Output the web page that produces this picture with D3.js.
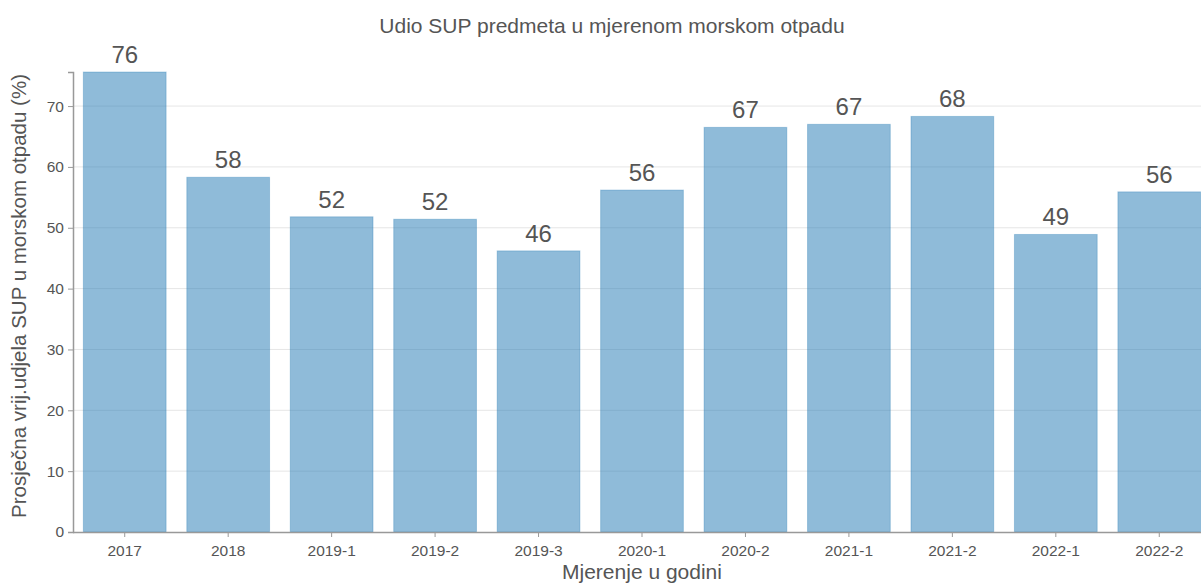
<!DOCTYPE html>
<html><head><meta charset="utf-8">
<script src="https://cdn.jsdelivr.net/npm/d3@7"></script>
<style>
body{margin:0;background:#fff;overflow:hidden}
text{font-family:"Liberation Sans",Arial,sans-serif}
</style></head>
<body>
<svg id="c" width="1201" height="583"></svg>
<script>
const categories = ["2017","2018","2019-1","2019-2","2019-3","2020-1","2020-2","2021-1","2021-2","2022-1","2022-2"];
const values = [75.6,58.3,51.8,51.4,46.2,56.2,66.5,67.0,68.3,48.9,55.9];
const labels = ["76","58","52","52","46","56","67","67","68","49","56"];
const yTicks = [0,10,20,30,40,50,60,70];
const title = "Udio SUP predmeta u mjerenom morskom otpadu";
const xTitle = "Mjerenje u godini";
const yTitle = "Prosječna vrij.udjela SUP u morskom otpadu (%)";

(function(){
const svg = d3.select("#c");
const mLeft = 73, mBottom = 532, mTop = 72, mRight = 1211;
const x = d3.scaleBand().domain(categories).range([mLeft, mRight]).paddingInner(0.2).paddingOuter(0.1);
const y = d3.scaleLinear().domain([0, d3.max(values)]).range([mBottom, mTop]);

// gridlines
svg.append("g").selectAll("line").data(yTicks.filter(d=>d>0)).join("line")
  .attr("x1", mLeft).attr("x2", 1201).attr("y1", d=>y(d)).attr("y2", d=>y(d))
  .attr("stroke", "#e6e6e6").attr("stroke-width", 1);

// bars
svg.append("g").selectAll("rect").data(values).join("rect")
  .attr("x", (d,i)=>x(categories[i]))
  .attr("y", d=>y(d))
  .attr("width", x.bandwidth())
  .attr("height", d=>mBottom - y(d))
  .attr("fill", "rgba(31,119,180,0.5)")
  .attr("stroke", "rgba(31,119,180,0.3)")
  .attr("stroke-width", 1);

// value labels
svg.append("g").selectAll("text").data(values).join("text")
  .attr("x", (d,i)=>x(categories[i]) + x.bandwidth()/2)
  .attr("y", d=>y(d) - 9)
  .attr("text-anchor", "middle")
  .attr("font-size", 24)
  .attr("fill", "#555")
  .text((d,i)=>labels[i]);

// axes
const yAxis = svg.append("g").attr("transform", `translate(${mLeft},0)`)
  .call(d3.axisLeft(y).tickValues(yTicks).tickSize(5).tickPadding(4));
const xAxis = svg.append("g").attr("transform", `translate(0,${mBottom})`)
  .call(d3.axisBottom(x).tickSize(5).tickPadding(8));
[yAxis, xAxis].forEach(a=>{
  a.select(".domain").attr("stroke", "#999").attr("stroke-width", 1.5);
  a.selectAll(".tick line").attr("stroke", "#999");
  a.selectAll(".tick text").attr("fill", "#555").attr("font-size", 15.5)
   .attr("font-family", '"Liberation Sans",Arial,sans-serif');
});
xAxis.select(".domain").attr("d", `M${mLeft},0.5H1201`);

// titles
svg.append("text").attr("x", 612).attr("y", 33).attr("text-anchor", "middle")
  .attr("font-size", 21).attr("fill", "#555").text(title);
svg.append("text").attr("x", 642).attr("y", 579).attr("text-anchor", "middle")
  .attr("font-size", 21).attr("fill", "#555").text(xTitle);
svg.append("text").attr("transform", "translate(25.5,296) rotate(-90)").attr("text-anchor", "middle")
  .attr("font-size", 20.5).attr("fill", "#555").text(yTitle);
})();
</script>
</body></html>
